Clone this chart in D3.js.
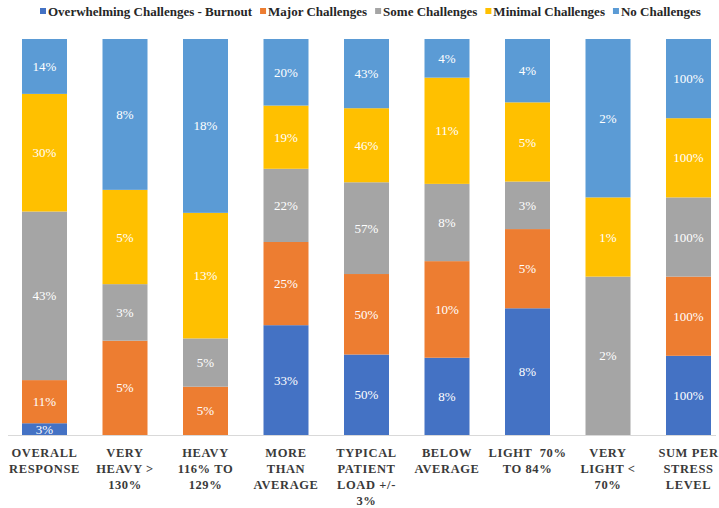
<!DOCTYPE html>
<html>
<head>
<meta charset="utf-8">
<script src="https://cdn.jsdelivr.net/npm/d3@7"></script>
<style>
  html, body { margin: 0; padding: 0; background: #fff; }
  svg { display: block; }
</style>
</head>
<body>
<svg id="chart" width="719" height="508"></svg>
<script>
// Stress levels (x categories), one label line per array entry
const categories = [
  ["OVERALL", "RESPONSE"],
  ["VERY", "HEAVY >", "130%"],
  ["HEAVY", "116% TO", "129%"],
  ["MORE", "THAN", "AVERAGE"],
  ["TYPICAL", "PATIENT", "LOAD +/-", "3%"],
  ["BELOW", "AVERAGE"],
  ["LIGHT  70%", "TO 84%"],
  ["VERY", "LIGHT <", "70%"],
  ["SUM PER", "STRESS", "LEVEL"]
];

const seriesNames = [
  "Overwhelming Challenges - Burnout",
  "Major Challenges",
  "Some Challenges",
  "Minimal Challenges",
  "No Challenges"
];
const seriesColors = ["#4472C4", "#ED7D31", "#A5A5A5", "#FFC000", "#5B9BD5"];

// Percentages per series, one value per stress level
const overwhelming = [3, 0, 0, 33, 50, 8, 8, 0, 100];
const major        = [11, 5, 5, 25, 50, 10, 5, 0, 100];
const some         = [43, 3, 5, 22, 57, 8, 3, 2, 100];
const minimal      = [30, 5, 13, 19, 46, 11, 5, 1, 100];
const none         = [14, 8, 18, 20, 43, 4, 4, 2, 100];
const seriesValues = [overwhelming, major, some, minimal, none];

const svg = d3.select("#chart");

// Build 100% stacked rows
const rows = categories.map((c, i) => {
  const r = { key: i };
  seriesValues.forEach((vals, s) => { r["s" + s] = vals[i]; });
  return r;
});
const keys = seriesNames.map((_, s) => "s" + s);
const stacked = d3.stack().keys(keys).offset(d3.stackOffsetExpand)(rows);

const x = d3.scaleBand()
  .domain(d3.range(categories.length))
  .range([4.25, 728.75])
  .paddingInner(0.441)
  .paddingOuter(0.2205);

const y = d3.scaleLinear().domain([0, 1]).range([435, 39]);

// Baseline
svg.append("line")
  .attr("x1", 8).attr("x2", 716)
  .attr("y1", 435.5).attr("y2", 435.5)
  .attr("stroke", "#d9d9d9").attr("stroke-width", 1.2);

// Segments
const layers = svg.append("g").selectAll("g")
  .data(stacked)
  .join("g")
  .attr("fill", (d, i) => seriesColors[i]);

layers.selectAll("rect")
  .data(d => d.filter(p => p[1] - p[0] > 0))
  .join("rect")
  .attr("x", d => x(d.data.key))
  .attr("width", x.bandwidth())
  .attr("y", d => y(d[1]))
  .attr("height", d => y(d[0]) - y(d[1]));

// Value labels
const labelG = svg.append("g")
  .attr("font-family", "'Liberation Serif', 'Times New Roman', serif")
  .attr("font-size", 13)
  .attr("fill", "#ffffff")
  .attr("text-anchor", "middle");

stacked.forEach((layer, s) => {
  labelG.selectAll(null)
    .data(layer.filter(p => p[1] - p[0] > 0))
    .join("text")
    .attr("x", d => x(d.data.key) + x.bandwidth() / 2)
    .attr("y", d => (y(d[0]) + y(d[1])) / 2)
    .attr("dy", "0.35em")
    .text(d => d.data["s" + s] + "%");
});

// Category axis labels
const axisG = svg.append("g")
  .attr("font-family", "'Liberation Serif', 'Times New Roman', serif")
  .attr("font-size", 12.5)
  .attr("font-weight", "bold")
  .attr("letter-spacing", "0.6px")
  .attr("fill", "#3a3a3a")
  .attr("text-anchor", "middle");

categories.forEach((lines, i) => {
  const cx = x(i) + x.bandwidth() / 2;
  const t = axisG.append("text")
    .attr("x", cx)
    .attr("y", 457);
  lines.forEach((ln, j) => {
    t.append("tspan")
      .attr("x", cx)
      .attr("y", 457 + j * 16)
      .style("white-space", "pre")
      .text(ln);
  });
});

// Legend
const legend = svg.append("g")
  .attr("font-family", "'Liberation Serif', 'Times New Roman', serif")
  .attr("font-size", 13)
  .attr("font-weight", "bold")
  .attr("fill", "#262626");

let lx = 40;
seriesNames.forEach((name, s) => {
  legend.append("rect")
    .attr("x", lx).attr("y", 8)
    .attr("width", 6).attr("height", 6)
    .attr("fill", seriesColors[s]);
  const t = legend.append("text")
    .attr("x", lx + 8).attr("y", 15.5)
    .text(name);
  lx += 8 + t.node().getComputedTextLength() + 8;
});
</script>
</body>
</html>
